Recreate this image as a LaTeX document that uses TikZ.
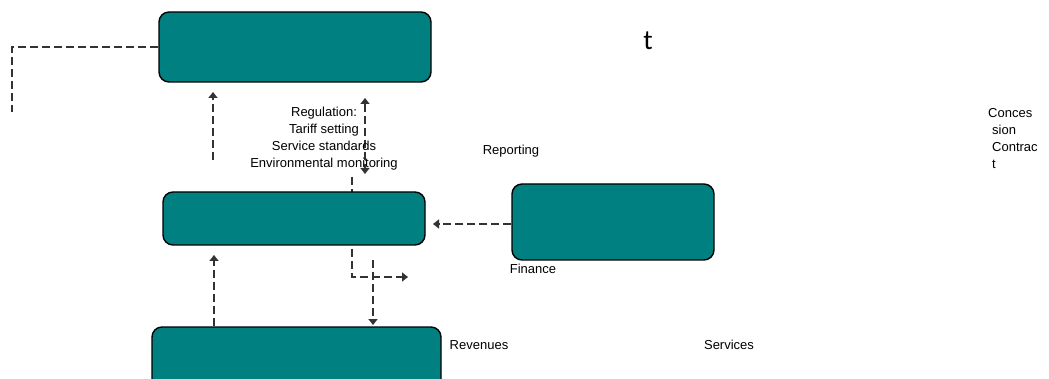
\documentclass[tikz,border=0pt]{standalone}
\usepackage{fontspec}
\setmainfont{Liberation Sans}
\newfontfamily\bigfont{Carlito}
\usetikzlibrary{arrows.meta,backgrounds}

\definecolor{tealbox}{HTML}{008080}
\definecolor{linegray}{HTML}{333333}

\tikzset{
    block/.style={draw=black,line width=1.4pt,fill=tealbox,rounded corners=10pt,inner sep=0pt},
    link/.style={draw=linegray,line width=2.2pt,dash pattern=on 8pt off 4pt},
    arr/.style={link,-{Triangle[width=9pt,length=6pt]}},
    biarr/.style={link,{Triangle[width=9pt,length=6pt]}-{Triangle[width=9pt,length=6pt]}},
    lbl/.style={font=\fontsize{13}{17}\selectfont,inner sep=0pt,align=center}
}

\begin{document}
\begin{tikzpicture}[x=1pt,y=-1pt]
    \useasboundingbox (0,0) rectangle (1049,379);

    % boxes
    \node[block,minimum width=272pt,minimum height=70pt] (top) at (295,47) {};
    \node[block,minimum width=262pt,minimum height=53pt] (mid) at (294,218.5) {};
    \node[block,minimum width=202pt,minimum height=76pt] (fin) at (613,222) {};
    \node[block,minimum width=289pt,minimum height=70pt] (bot) at (296.5,362) {};

    % free ends
    \coordinate (corner) at (12,112);
    \coordinate (upA) at (213,160);
    \coordinate (upAend) at (213,92);
    \coordinate (regT) at (365,98);
    \coordinate (regB) at (365,174);
    \coordinate (payS) at (352,177);
    \coordinate (payE) at (408,277);
    \coordinate (revS) at (373,260);
    \coordinate (revE) at (373,325);
    \coordinate (upB) at (214,255);
    \coordinate (repE) at (433,224);

    % connectors
    \begin{scope}[on background layer]
        \draw[link] (top.west) -| (corner);
        \draw[arr] (upA) -- (upAend);
        \draw[biarr] (regT) -- (regB);
        \draw[arr] (payS) |- (payE);
        \draw[arr] (revS) -- (revE);
        \draw[arr] (bot.north -| upB) -- (upB);
        \draw[arr] (fin.west |- repE) -- (repE);
    \end{scope}

    % labels
    \node[lbl] (reg) at (324,138.5) {Regulation:\\Tariff setting\\Service standards\\Environmental monitoring};
    \node[lbl] (rep) at (511,151) {Reporting};
    \node[lbl] (fnc) at (533,269) {Finance};
    \node[lbl] (rev) at (479,345) {Revenues};
    \node[lbl] (srv) at (729,345) {Services};
    \node[lbl,align=left,anchor=north west] (con) at (992,108) {\hspace*{-4pt}Conces\\sion\\Contrac\\t};
    \node[font=\bigfont\fontsize{28}{32}\selectfont,inner sep=0pt] (tt) at (648,41) {t};
\end{tikzpicture}
\end{document}
